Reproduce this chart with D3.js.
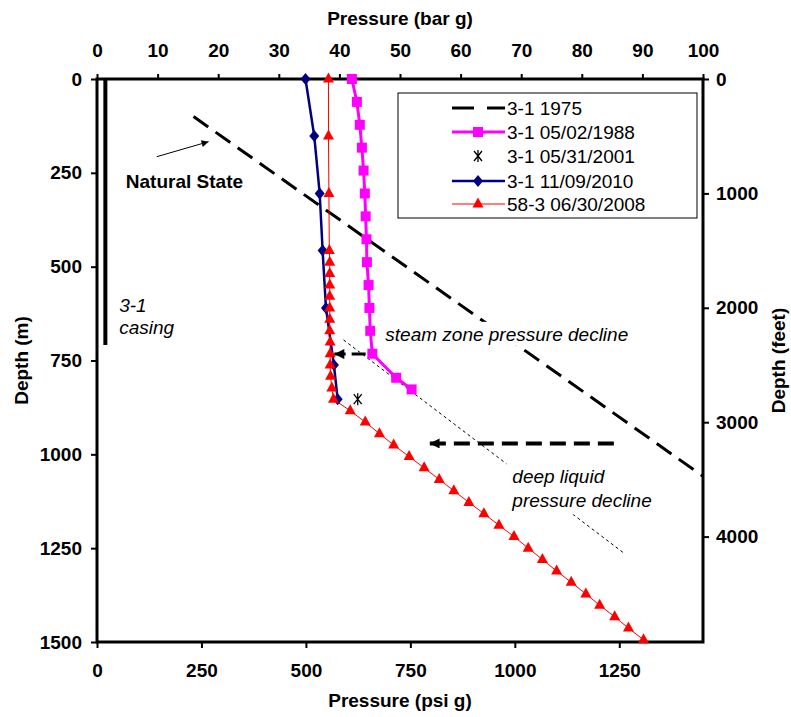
<!DOCTYPE html>
<html>
<head>
<meta charset="utf-8">
<script src="https://cdn.jsdelivr.net/npm/d3@7"></script>
<style>
  body { margin: 0; background: #fff; }
  text { font-family: "Liberation Sans", Arial, sans-serif; }
</style>
</head>
<body>
<svg id="chart" width="791" height="717"></svg>
<script>
// axis ticks
const barTicks = [0, 10, 20, 30, 40, 50, 60, 70, 80, 90, 100];
const psiTicks = [0, 250, 500, 750, 1000, 1250];
const depthTicks = [0, 250, 500, 750, 1000, 1250, 1500];
const feetTicks = [0, 1000, 2000, 3000, 4000];

// pressure in psi g, depth in m
const natural1975Psi = [231, 1450];
const natural1975Depth = [100, 1058];

const well1988Depth = [0, 61, 122, 183, 244, 305, 366, 427, 488, 549, 610, 671, 732, 796, 827];
const well1988Psi = [610, 622, 629, 634, 638, 641, 643, 645, 646, 650, 652, 654, 659, 716, 753];

const well2001Depth = [853];
const well2001Psi = [624];

const well2010Depth = [0, 152, 305, 457, 610, 762, 853];
const well2010Psi = [499, 520, 533, 540, 548, 567, 576];

const well583Depth = [0, 152, 305, 457, 488, 518, 549, 579, 610, 640, 671, 701, 732, 762, 792, 823, 853,
  884, 914, 945, 975, 1006, 1036, 1067, 1097, 1128, 1158, 1189, 1219, 1250, 1280, 1311, 1341, 1372, 1402, 1433, 1463, 1494];
const well583Psi = [554, 554, 555, 556, 557, 557, 557, 557, 557, 557, 557, 558, 558, 558, 559, 562, 566,
  606, 642, 676, 710, 747, 783, 819, 854, 890, 926, 962, 998, 1032, 1066, 1100, 1135, 1170, 1203, 1239, 1272, 1308];

const casingPsi = [20, 20];
const casingDepth = [0, 709];

const trendPsi = [590, 1262];
const trendDepth = [695, 1264];

const legendNames = ["3-1 1975", "3-1 05/02/1988", "3-1 05/31/2001", "3-1 11/09/2010", "58-3 06/30/2008"];

const zip = (ps, ds) => ps.map((p, i) => ({ p: p, d: ds[i] }));

var margin = { top: 79, right: 88, bottom: 75, left: 97 },
    width = 791 - margin.left - margin.right,
    height = 717 - margin.top - margin.bottom;

const svg = d3.select("#chart");
svg.append("rect").attr("width", 791).attr("height", 717).attr("fill", "#fff");
const g = svg.append("g").attr("transform", `translate(${margin.left},${margin.top})`);

const x = d3.scaleLinear().domain([0, 1450.38]).range([0, width]);
const xBar = d3.scaleLinear().domain([0, 100]).range([0, width]);
const y = d3.scaleLinear().domain([0, 1500]).range([0, height]);
const yFt = d3.scaleLinear().domain([0, 1500 / 0.3048]).range([0, height]);

const defs = svg.append("defs");
defs.append("marker").attr("id", "head").attr("viewBox", "0 0 10 10")
  .attr("refX", 10).attr("refY", 5).attr("markerUnits", "userSpaceOnUse")
  .attr("markerWidth", 12).attr("markerHeight", 10).attr("orient", "auto")
  .append("path").attr("d", "M0,0L10,5L0,10Z").attr("fill", "#000");
defs.append("marker").attr("id", "smallhead").attr("viewBox", "0 0 10 10")
  .attr("refX", 10).attr("refY", 5).attr("markerUnits", "userSpaceOnUse")
  .attr("markerWidth", 9).attr("markerHeight", 7).attr("orient", "auto")
  .append("path").attr("d", "M0,0L10,5L0,10Z").attr("fill", "#000");

const line = d3.line().x(d => x(d.p)).y(d => y(d.d));

// axes
const fs = "19px";
const fmt = d3.format("d");
function styleAxis(sel) {
  sel.select(".domain").remove();
  sel.selectAll(".tick line").attr("stroke", "#000").attr("stroke-width", 2);
  sel.selectAll(".tick text").attr("fill", "#000").style("font-size", fs).style("font-weight", "bold");
}
g.append("g").call(d3.axisTop(xBar).tickValues(barTicks).tickFormat(fmt).tickSize(5).tickPadding(17)).call(styleAxis);
g.append("g").attr("transform", `translate(0,${height})`)
  .call(d3.axisBottom(x).tickValues(psiTicks).tickFormat(fmt).tickSize(6).tickPadding(16)).call(styleAxis);
g.append("g").call(d3.axisLeft(y).tickValues(depthTicks).tickFormat(fmt).tickSize(6).tickPadding(9)).call(styleAxis);
g.append("g").attr("transform", `translate(${width},0)`)
  .call(d3.axisRight(yFt).tickValues(feetTicks).tickFormat(fmt).tickSize(6).tickPadding(7)).call(styleAxis);

g.append("rect").attr("width", width).attr("height", height)
  .attr("fill", "none").attr("stroke", "#000").attr("stroke-width", 3);

// axis titles
const title = (t, tx, ty, rot) => svg.append("text").text(t)
  .attr("transform", `translate(${tx},${ty})` + (rot ? " rotate(-90)" : ""))
  .attr("text-anchor", "middle").style("font-size", fs).style("font-weight", "bold");
title("Pressure (bar g)", margin.left + width / 2, 25);
title("Pressure (psi g)", margin.left + width / 2, 707);
title("Depth (m)", 28, margin.top + height / 2, true);
title("Depth (feet)", 785, margin.top + height / 2, true);

// casing
g.append("path").datum(zip(casingPsi, casingDepth)).attr("d", line)
  .attr("stroke", "#000").attr("stroke-width", 4).attr("fill", "none");

// natural state 1975
g.append("path").datum(zip(natural1975Psi, natural1975Depth)).attr("d", line)
  .attr("stroke", "#000").attr("stroke-width", 3).attr("stroke-dasharray", "18,9").attr("fill", "none");

// trend guide
g.append("path").datum(zip(trendPsi, trendDepth)).attr("d", line)
  .attr("stroke", "#000").attr("stroke-width", 1).attr("stroke-dasharray", "3,3").attr("fill", "none");

// marker shapes
const square = "M-5,-5H5V5H-5Z";
const diamond = "M0,-6L5,0L0,6L-5,0Z";
const triangle = "M0,-6.5L5.5,3.5L-5.5,3.5Z";
const star = "M-4,-5L4,5M4,-5L-4,5M0,-6V6";

// 58-3 2008
const d583 = zip(well583Psi, well583Depth);
g.append("path").datum(d583).attr("d", line).attr("stroke", "#ff0000").attr("stroke-width", 1).attr("fill", "none");

// 2010
const d2010 = zip(well2010Psi, well2010Depth);
g.append("path").datum(d2010).attr("d", line).attr("stroke", "#000080").attr("stroke-width", 2.5).attr("fill", "none");
g.selectAll(".dia").data(d2010).join("path").attr("class", "dia")
  .attr("transform", d => `translate(${x(d.p)},${y(d.d)})`).attr("d", diamond).attr("fill", "#000080");

g.selectAll(".tri").data(d583).join("path").attr("class", "tri")
  .attr("transform", d => `translate(${x(d.p)},${y(d.d)})`).attr("d", triangle).attr("fill", "#ff0000");

// 1988
const d1988 = zip(well1988Psi, well1988Depth);
g.append("path").datum(d1988).attr("d", line).attr("stroke", "#ff00ff").attr("stroke-width", 3).attr("fill", "none");
g.selectAll(".sq").data(d1988).join("path").attr("class", "sq")
  .attr("transform", d => `translate(${x(d.p)},${y(d.d)})`).attr("d", square).attr("fill", "#ff00ff");

// 2001
g.selectAll(".star").data(zip(well2001Psi, well2001Depth)).join("path").attr("class", "star")
  .attr("transform", d => `translate(${x(d.p)},${y(d.d)})`).attr("d", star)
  .attr("stroke", "#000").attr("stroke-width", 1.3).attr("fill", "none");

// annotations
g.append("line").attr("x1", x(143)).attr("y1", y(207)).attr("x2", x(267)).attr("y2", y(167))
  .attr("stroke", "#000").attr("stroke-width", 1).attr("marker-end", "url(#smallhead)");
g.append("text").text("Natural State").attr("x", x(69)).attr("y", y(290))
  .style("font-size", fs).style("font-weight", "bold");

g.append("text").text("3-1").attr("x", x(53)).attr("y", y(602)).attr("dy", "0.35em")
  .style("font-size", fs).style("font-style", "italic");
g.append("text").text("casing").attr("x", x(53)).attr("y", y(661)).attr("dy", "0.35em")
  .style("font-size", fs).style("font-style", "italic");

g.append("rect").attr("x", x(666)).attr("y", y(647)).attr("width", 252).attr("height", 24).attr("fill", "#fff");
g.append("text").text("steam zone pressure decline").attr("x", x(690)).attr("y", y(680)).attr("dy", "0.35em")
  .style("font-size", fs).style("font-style", "italic");

g.append("line").attr("x1", x(643)).attr("y1", y(733)).attr("x2", x(568)).attr("y2", y(733))
  .attr("stroke", "#000").attr("stroke-width", 3).attr("stroke-dasharray", "14,6").attr("marker-end", "url(#head)");
g.append("line").attr("x1", x(1237)).attr("y1", y(971)).attr("x2", x(796)).attr("y2", y(971))
  .attr("stroke", "#000").attr("stroke-width", 4).attr("stroke-dasharray", "16,8").attr("marker-end", "url(#head)");

g.append("rect").attr("x", x(980)).attr("y", y(1000)).attr("width", 160).attr("height", 60).attr("fill", "#fff");
g.append("text").text("deep liquid").attr("x", x(994)).attr("y", y(1058)).attr("dy", "0.35em")
  .style("font-size", fs).style("font-style", "italic");
g.append("text").text("pressure decline").attr("x", x(994)).attr("y", y(1122)).attr("dy", "0.35em")
  .style("font-size", fs).style("font-style", "italic");

// legend
const lg = svg.append("g").attr("transform", "translate(398,93)");
lg.append("rect").attr("width", 299).attr("height", 125).attr("fill", "#fff").attr("stroke", "#000").attr("stroke-width", 1);
const rowY = [15, 39, 63, 88, 111];
legendNames.forEach((name, i) => {
  const row = lg.append("g").attr("transform", `translate(0,${rowY[i]})`);
  row.append("text").text(name).attr("x", 109).attr("dy", "0.35em").style("font-size", fs);
  if (i === 0) {
    row.append("line").attr("x1", 54).attr("x2", 107).attr("stroke", "#000").attr("stroke-width", 3).attr("stroke-dasharray", "22,13");
  } else if (i === 1) {
    row.append("line").attr("x1", 54).attr("x2", 107).attr("stroke", "#ff00ff").attr("stroke-width", 3);
    row.append("path").attr("transform", "translate(80,0)").attr("d", square).attr("fill", "#ff00ff");
  } else if (i === 2) {
    row.append("path").attr("transform", "translate(80,0)").attr("d", star).attr("stroke", "#000").attr("stroke-width", 1.3);
  } else if (i === 3) {
    row.append("line").attr("x1", 54).attr("x2", 107).attr("stroke", "#000080").attr("stroke-width", 2.5);
    row.append("path").attr("transform", "translate(80,0)").attr("d", diamond).attr("fill", "#000080");
  } else {
    row.append("line").attr("x1", 54).attr("x2", 107).attr("stroke", "#ff0000").attr("stroke-width", 1);
    row.append("path").attr("transform", "translate(80,0)").attr("d", triangle).attr("fill", "#ff0000");
  }
});
</script>
</body>
</html>
